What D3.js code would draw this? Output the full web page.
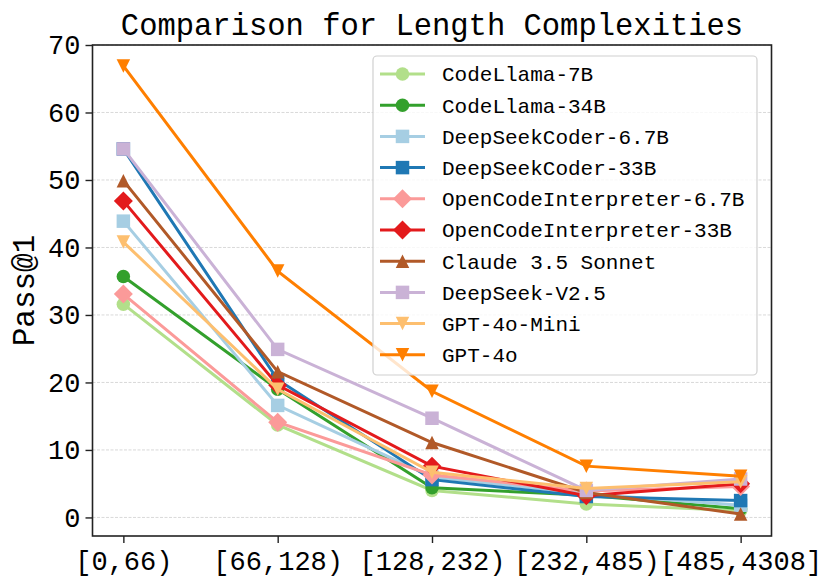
<!DOCTYPE html>
<html>
<head>
<meta charset="utf-8">
<script src="https://cdn.jsdelivr.net/npm/d3@7"></script>
<style>
  body { margin: 0; background: #fff; }
  text { font-family: "Liberation Mono", "DejaVu Sans Mono", monospace; fill: #000; }
</style>
</head>
<body>
<div id="chart"></div>
<script>
// data
var categories = ["[0,66)", "[66,128)", "[128,232)", "[232,485)", "[485,4308]"];
var models = ["CodeLlama-7B", "CodeLlama-34B", "DeepSeekCoder-6.7B", "DeepSeekCoder-33B",
	"OpenCodeInterpreter-6.7B", "OpenCodeInterpreter-33B", "Claude 3.5 Sonnet",
	"DeepSeek-V2.5", "GPT-4o-Mini", "GPT-4o"];
var codellama7b = [31.6, 13.7, 4.0, 2.0, 1.0];
var codellama34b = [35.7, 19.0, 4.4, 3.3, 1.3];
var dsc67b = [43.9, 16.6, 6.0, 3.5, 1.8];
var dsc33b = [54.6, 20.4, 5.6, 3.1, 2.5];
var oci67b = [33.1, 14.1, 6.3, 3.9, 4.6];
var oci33b = [46.9, 19.6, 7.6, 3.2, 5.0];
var claude = [49.9, 21.6, 11.1, 3.7, 0.5];
var deepseekv25 = [54.6, 24.9, 14.7, 4.0, 5.7];
var gpt4omini = [40.8, 19.0, 6.7, 4.3, 5.3];
var gpt4o = [66.9, 36.5, 18.7, 7.6, 6.1];
var yTicks = [0, 10, 20, 30, 40, 50, 60, 70];

var colors = ["#b2df8a", "#33a02c", "#a6cee3", "#1f78b4", "#fb9a99",
	"#e31a1c", "#b15928", "#cab2d6", "#fdbf6f", "#ff7f00"];
var markers = ["o", "o", "s", "s", "D", "D", "^", "s", "v", "v"];

var series = [codellama7b, codellama34b, dsc67b, dsc33b, oci67b, oci33b,
	claude, deepseekv25, gpt4omini, gpt4o].map(function(v, i) {
	return {name: models[i], values: v, color: colors[i], marker: markers[i]};
});

var width = 831, height = 586;
var plotL = 92.5, plotR = 771.5, plotT = 45, plotB = 536;

var svg = d3.select("#chart").append("svg")
	.attr("width", width)
	.attr("height", height);

var x = d3.scalePoint()
	.domain(categories)
	.range([plotL, plotR])
	.padding(0.2);

var y = d3.scaleLinear()
	.domain([-2.75, 70])
	.range([plotB, plotT]);

// marker shapes like matplotlib's, ms in px
var ms = 13.5;
function markerPath(m) {
	var h = ms / 2;
	if (m == "o") return d3.symbol(d3.symbolCircle, Math.PI * h * h)();
	if (m == "s") return "M" + (-h) + "," + (-h) + "H" + h + "V" + h + "H" + (-h) + "Z";
	if (m == "D") { var d = h * 1.41; return "M0," + (-d) + "L" + d + ",0L0," + d + "L" + (-d) + ",0Z"; }
	if (m == "^") return "M0," + (-h) + "L" + h + "," + h + "L" + (-h) + "," + h + "Z";
	if (m == "v") return "M0," + h + "L" + h + "," + (-h) + "L" + (-h) + "," + (-h) + "Z";
}

// grid
svg.append("g")
	.selectAll("line")
	.data(yTicks)
	.enter().append("line")
	.attr("x1", plotL).attr("x2", plotR)
	.attr("y1", function(d) { return y(d); })
	.attr("y2", function(d) { return y(d); })
	.attr("stroke", "#cfcfcf")
	.attr("stroke-width", 0.8)
	.attr("stroke-dasharray", "3,1.5");

// lines + markers
var line = d3.line()
	.x(function(d, i) { return x(categories[i]); })
	.y(function(d) { return y(d); });

var g = svg.selectAll(".series")
	.data(series)
	.enter().append("g")
	.attr("class", "series");

g.append("path")
	.attr("d", function(d) { return line(d.values); })
	.attr("fill", "none")
	.attr("stroke", function(d) { return d.color; })
	.attr("stroke-width", 3);

g.selectAll(".pt")
	.data(function(d) { return d.values.map(function(v, i) { return {v: v, i: i, s: d}; }); })
	.enter().append("path")
	.attr("class", "pt")
	.attr("transform", function(d) { return "translate(" + x(categories[d.i]) + "," + y(d.v) + ")"; })
	.attr("d", function(d) { return markerPath(d.s.marker); })
	.attr("fill", function(d) { return d.s.color; });

// frame
svg.append("rect")
	.attr("x", plotL).attr("y", plotT)
	.attr("width", plotR - plotL).attr("height", plotB - plotT)
	.attr("fill", "none")
	.attr("stroke", "#222")
	.attr("stroke-width", 1.6);

// axes
var yAxis = svg.append("g")
	.attr("transform", "translate(" + plotL + ",0)")
	.call(d3.axisLeft(y).tickValues(yTicks).tickSize(7).tickPadding(5).tickFormat(d3.format("d")));
var xAxis = svg.append("g")
	.attr("transform", "translate(0," + plotB + ")")
	.call(d3.axisBottom(x).tickSize(7).tickPadding(5));

[yAxis, xAxis].forEach(function(a) {
	a.select(".domain").remove();
	a.selectAll(".tick line").attr("stroke", "#222").attr("stroke-width", 1.4);
	a.selectAll("text").style("font-family", "Liberation Mono").style("font-size", "27px").attr("fill", "#000");
});
xAxis.selectAll("text").attr("dy", "0.8em");

// title and y label
svg.append("text")
	.attr("x", (plotL + plotR) / 2)
	.attr("y", 35)
	.attr("text-anchor", "middle")
	.style("font-size", "30.5px")
	.text("Comparison for Length Complexities");

svg.append("text")
	.attr("transform", "translate(34," + ((plotT + plotB) / 2) + ") rotate(-90)")
	.attr("text-anchor", "middle")
	.style("font-size", "31px")
	.text("Pass@1");

// legend
var legend = svg.append("g");
legend.append("rect")
	.attr("x", 373).attr("y", 56)
	.attr("width", 384).attr("height", 319)
	.attr("rx", 4)
	.attr("fill", "#fff").attr("fill-opacity", 0.8)
	.attr("stroke", "#d0d0d0").attr("stroke-width", 1.2);

var items = legend.selectAll(".item")
	.data(series)
	.enter().append("g")
	.attr("class", "item")
	.attr("transform", function(d, i) { return "translate(0," + (74 + i * 31.2) + ")"; });

items.append("line")
	.attr("x1", 380).attr("x2", 425)
	.attr("stroke", function(d) { return d.color; })
	.attr("stroke-width", 3);
items.append("path")
	.attr("transform", "translate(402.5,0)")
	.attr("d", function(d) { return markerPath(d.marker); })
	.attr("fill", function(d) { return d.color; });
items.append("text")
	.attr("x", 442)
	.attr("dy", "0.35em")
	.style("font-size", "21px")
	.text(function(d) { return d.name; });
</script>
</body>
</html>
